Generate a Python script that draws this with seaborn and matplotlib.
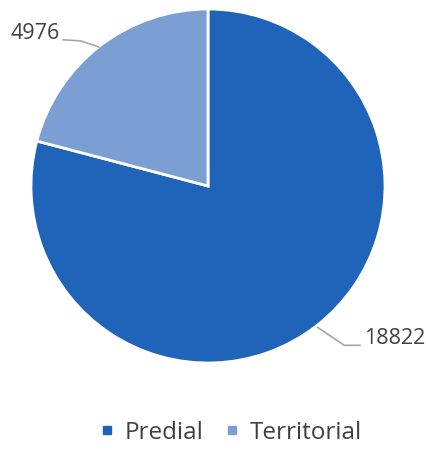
import numpy as np
import seaborn as sns
import matplotlib.pyplot as plt
from matplotlib.lines import Line2D

# data
categories = ["Predial", "Territorial"]
values = [18822, 4976]
colors = ["#1f64b8", "#7c9fd3"]

sns.set_theme(style="white")
plt.rcParams['font.family'] = ['Open Sans', 'DejaVu Sans']

fig = plt.figure(figsize=(4.26, 4.51), dpi=100)
ax = fig.add_axes([(208 - 177) / 426, 1 - (186 + 177) / 451, 354 / 426, 354 / 451])

wedges, _ = ax.pie(values, colors=colors, startangle=90, counterclock=False,
                   wedgeprops=dict(edgecolor="white", linewidth=2))
ax.set_xlim(-1, 1)
ax.set_ylim(-1, 1)
ax.set_aspect("auto")

# labels with leader lines
line_kw = dict(color="#a6a6a6", lw=1.2, clip_on=False)
ax.plot([-0.615, -0.72, -0.82], [0.785, 0.82, 0.826], **line_kw)
ax.text(-0.84, 0.86, f"{values[1]}", ha="right", va="center", fontsize=15.5, color="#404040")
ax.plot([0.618, 0.77, 0.86], [-0.798, -0.90, -0.90], **line_kw)
ax.text(0.88, -0.86, f"{values[0]}", ha="left", va="center", fontsize=15.5, color="#404040")

handles = [Line2D([], [], marker="s", ls="", color=c, markersize=6) for c in colors]
fig.legend(handles, categories, loc="center", bbox_to_anchor=(0.542, 0.04), ncol=2,
           frameon=False, fontsize=17.5, handlelength=0.6, handletextpad=0.4,
           columnspacing=0.9, labelcolor="#404040")

fig.savefig("out.png", dpi=100)
